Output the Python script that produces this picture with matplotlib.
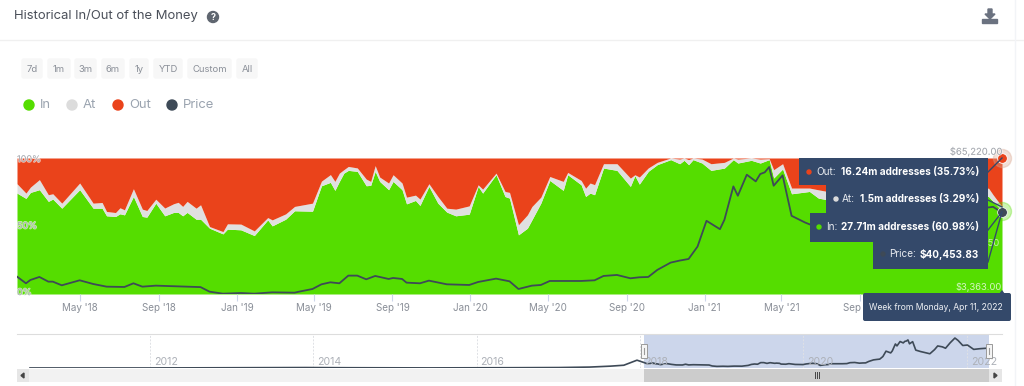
#!/usr/bin/env python3
import matplotlib
matplotlib.use("Agg")
import matplotlib.dates as mdates
import matplotlib.patheffects as pe
import matplotlib.pyplot as plt
import numpy as np
from matplotlib.patches import Circle, FancyBboxPatch, Polygon, Rectangle

plt.rcParams["font.family"] = ["Inter", "DejaVu Sans"]

# weeks counted from Monday, Jan 22 2018
share_weeks = [0, 2, 3, 5, 7, 8, 10, 14, 17, 19, 20, 22, 23, 24, 26, 28, 29, 31, 33, 35, 36, 37, 38, 40, 41, 43, 46, 47,
               50, 53, 56, 57, 60, 62, 66, 68, 70, 71, 72, 73, 74, 76, 78, 79, 80, 81, 83, 84, 86, 87, 89, 90, 92, 94,
               96, 98, 101, 103, 104, 107, 109, 110, 112, 114, 115, 117, 119, 122, 123, 126, 127, 128, 129, 131, 134,
               137, 138, 139, 141, 143, 146, 148, 149, 150, 151, 153, 155, 158, 160, 161, 164, 166, 168, 169, 171, 173,
               177, 179, 181, 185, 190, 195, 200, 205, 210, 217, 218, 220]
in_pct = [74.2, 70.3, 74.7, 76.7, 68.1, 69.8, 63.1, 76.7, 63.1, 63.1, 57.5, 57.0, 59.0, 58.2, 71.7, 57.0, 56.5, 66.8,
          57.5, 60.0, 60.0, 57.5, 60.0, 55.0, 55.0, 48.4, 44.2, 47.7, 47.2, 43.0, 54.5, 50.1, 55.0, 61.2, 60.9, 79.6,
          82.1, 76.2, 82.8, 88.9, 90.9, 90.2, 79.6, 79.9, 90.2, 82.8, 76.7, 82.8, 76.7, 66.3, 68.8, 65.1, 79.1, 66.8,
          60.2, 57.5, 58.7, 79.1, 74.2, 87.7, 71.7, 70.5, 43.5, 48.4, 54.5, 66.8, 83.5, 76.2, 87.7, 80.3, 71.7, 74.2,
          73.0, 92.6, 90.9, 79.1, 87.0, 80.8, 90.2, 95.1, 98.8, 95.8, 98.3, 95.1, 98.8, 96.3, 90.9, 92.6, 98.8, 96.3,
          98.3, 96.3, 98.8, 85.3, 91.9, 73.7, 75.4, 70.5, 69.3, 71.0, 69.0, 76.0, 84.0, 80.0, 72.0, 71.7, 68.1, 60.98]
at_pct = [6.9, 3.9, 3.9, 7.4, 4.9, 3.9, 3.7, 4.9, 3.7, 4.2, 3.2, 2.9, 4.4, 3.7, 5.7, 5.4, 4.9, 2.9, 5.7, 6.4, 7.4, 6.9,
          8.1, 8.1, 10.6, 1.2, 1.7, 3.9, 4.2, 3.4, 1.7, 4.4, 3.9, 3.2, 5.9, 3.4, 5.7, 6.6, 6.1, 2.5, 2.9, 2.5, 4.9, 2.9,
          4.2, 3.2, 4.9, 4.9, 4.9, 4.9, 3.9, 4.7, 2.0, 4.9, 2.9, 4.9, 6.1, 1.2, 2.9, 1.2, 3.7, 4.2, 7.4, 9.8, 9.8, 4.4,
          2.9, 6.6, 1.7, 3.2, 6.1, 7.4, 7.4, 3.2, 4.9, 6.1, 0.7, 5.2, 2.5, 1.7, 1.2, 3.4, 1.7, 3.7, 1.2, 2.9, 4.9, 4.2,
          1.2, 2.9, 1.7, 2.9, 0.7, 6.1, 3.9, 4.2, 2.5, 6.1, 6.1, 5.0, 6.0, 5.0, 4.0, 4.0, 5.0, 6.1, 4.9, 3.29]

price_weeks = [0, 2, 3, 5, 7, 8, 10, 14, 17, 20, 24, 26, 28, 31, 41, 43, 46, 50, 53, 57, 62, 63, 66, 68, 70, 72, 74, 76,
               78, 80, 83, 84, 86, 87, 90, 92, 96, 101, 103, 107, 110, 112, 115, 117, 119, 126, 129, 131, 134, 137, 139,
               141, 143, 146, 148, 150, 152, 154, 157, 158, 160, 161, 163, 165, 166, 167, 168, 169, 171, 173, 176, 182,
               185, 187, 190, 192, 195, 198, 200, 203, 206, 210, 214, 218, 220]
price_usd = [11267, 8227, 9747, 11115, 8987, 8987, 7315, 9595, 7923, 6707, 6555, 8227, 6707, 7163, 6500, 4427, 3515, 3819,
             3515, 4123, 3971, 4427, 5643, 7771, 8683, 8227, 11723, 11723, 10051, 11571, 10203, 10659, 10203, 8531, 8227,
             9443, 7771, 7467, 8835, 10355, 9139, 5643, 7163, 7467, 9291, 9291, 9595, 11571, 12027, 10507, 10963, 11115,
             14307, 17651, 18563, 19300, 24947, 36651, 32851, 37107, 52307, 48051, 57627, 54587, 57931, 58691, 61123,
             52611, 57323, 38931, 35891, 31000, 40000, 48000, 46000, 43000, 55000, 65220, 60000, 49000, 50000, 40500,
             42000, 43000, 40453.83]

month_ticks = ["2018-05-01", "2018-09-01", "2019-01-01", "2019-05-01", "2019-09-01", "2020-01-01",
               "2020-05-01", "2020-09-01", "2021-01-01", "2021-05-01", "2021-09-01"]
month_labels = ["May '18", "Sep '18", "Jan '19", "May '19", "Sep '19", "Jan '20",
                "May '20", "Sep '20", "Jan '21", "May '21", "Sep '21"]

nav_early_dates = ["2010-07-15", "2012-01-01", "2013-11-30", "2014-06-01", "2015-06-01", "2016-06-15", "2017-01-01",
                   "2017-05-20", "2017-08-20", "2017-10-20", "2017-12-18"]
nav_early_price = [100, 100, 1000, 600, 250, 650, 1000, 2000, 4000, 6000, 17000]
nav_years = [2012, 2014, 2016, 2018, 2020, 2022]

range_buttons = ["7d", "1m", "3m", "6m", "1y", "YTD", "Custom", "All"]
legend_names = ["In", "At", "Out", "Price"]

GREEN = "#55dd00"
GREY = "#e0e0e0"
RED = "#ea431b"
DARK = "#3e4a57"
NAVY = "#34496a"
MUTED = "#a4a8af"

W, H = 1024, 386


def px_rect(x0, y0, x1, y1):
    return [x0 / W, 1 - y1 / H, (x1 - x0) / W, (y1 - y0) / H]


fig = plt.figure(figsize=(10.24, 3.86), dpi=100, facecolor="white")

start = np.datetime64("2018-01-22")
end = np.datetime64("2022-04-11")
share_dates = start + np.array(share_weeks) * np.timedelta64(7, "D")
price_dates = start + np.array(price_weeks) * np.timedelta64(7, "D")
in_arr = np.array(in_pct)
top_arr = in_arr + np.array(at_pct)

ax = fig.add_axes(px_rect(17, 158, 1002, 294))
ax.fill_between(share_dates, 0, in_arr, color=GREEN, lw=0)
ax.fill_between(share_dates, in_arr, top_arr, color=GREY, lw=0)
ax.fill_between(share_dates, top_arr, 100, color=RED, lw=0)
ax.set_xlim(start, end)
ax.set_ylim(0, 100)
ax.set_yticks([])
ax.set_xticks(np.array(month_ticks, dtype="datetime64[D]"))
ax.set_xticklabels(month_labels, fontsize=7.1, color="#8a8f98")
ax.tick_params(axis="x", length=5, width=0.8, color="#ccd6eb", pad=1.5)
for side in ax.spines.values():
    side.set_visible(False)

halo = [pe.withStroke(linewidth=1.2, foreground="white", alpha=0.6)]
for val, lab in [(99, "100%"), (50, "50%"), (1, "0%")]:
    ax.text(start, val, lab, fontsize=6.5, color=MUTED, va="center", ha="left", path_effects=halo, zorder=6)

ax2 = ax.twinx()
ax2.plot(price_dates, price_usd, color=DARK, lw=1.3, solid_joinstyle="round", zorder=4)
ax2.set_ylim(3363, 65220)
ax2.set_yticks([])
for side in ax2.spines.values():
    side.set_visible(False)

# end-of-series markers
ax.plot([end], [100], "o", ms=13, color="#d9a58f", alpha=0.35, clip_on=False, zorder=7)
ax.plot([end], [100], "o", ms=7, color=RED, mec="white", mew=0.6, clip_on=False, zorder=8)
ax.plot([end], [in_pct[-1]], "o", ms=13, color=GREEN, alpha=0.3, clip_on=False, zorder=7)
ax2.plot([end], [price_usd[-1]], "o", ms=7, color=DARK, mec="white", mew=0.5, clip_on=False, zorder=8)

# navigator
nav = fig.add_axes(px_rect(17, 334, 1002, 368))
nav_d = np.concatenate([np.array(nav_early_dates, dtype="datetime64[D]"), price_dates])
nav_p = np.concatenate([nav_early_price, price_usd])
to_x = mdates.date2num
n2012 = to_x(np.datetime64("2012-01-01"))
n2022 = to_x(np.datetime64("2022-01-01"))
per_px = (n2022 - n2012) / (967.0 - 149.7)
nav.set_xlim(n2012 - (149.7 - 17) * per_px, n2012 + (1002 - 149.7) * per_px)
nav.set_ylim(0, 74000)
sel0 = n2012 + (644 - 149.7) * per_px
sel1 = n2012 + (989 - 149.7) * per_px
nav.axvspan(sel0, sel1, color="#ccd6eb", lw=0, zorder=1)
for yr in nav_years:
    x = to_x(np.datetime64(f"{yr}-01-01"))
    nav.axvline(x, color="#dfe1e5", lw=0.7, ls=(0, (2, 1.5)), zorder=1.5)
    nav.text(x + 4 * per_px, 13000, str(yr), fontsize=7.6, color="#adb1b8", va="center", zorder=4)
nav.plot(to_x(nav_d), nav_p, color=DARK, lw=1.2, zorder=3)
nav.set_xticks([])
nav.set_yticks([])
for name, side in nav.spines.items():
    side.set_visible(name == "top")
    side.set_color("#dddddd")

# page furniture, in pixels
ui = fig.add_axes([0, 0, 1, 1], zorder=10)
ui.set_xlim(0, W)
ui.set_ylim(H, 0)
ui.axis("off")
ui.patch.set_alpha(0)

ui.text(14, 16, "Historical In/Out of the Money", fontsize=9.4, color="#4a4f59", va="center")
ui.add_patch(Circle((213, 17), 5.5, color="#5f6670"))
ui.text(213, 17, "?", fontsize=6.5, color="white", ha="center", va="center", fontweight="bold")
ui.plot([0, 1024], [40, 40], color="#f0f0f0", lw=1)
ui.plot([1015, 1015], [0, 386], color="#f2f4f7", lw=1)

# download icon
ui.add_patch(Polygon([(988, 9), (992, 9), (992, 14), (995, 14), (990, 19), (985, 14), (988, 14)], color="#6b7280"))
ui.add_patch(Rectangle((982, 19), 15, 4, color="#6b7280"))

button_x = [(21, 43), (47, 71), (74, 97), (101, 125), (129, 149), (153, 183), (187, 232), (236, 258)]
for name, (x0, x1) in zip(range_buttons, button_x):
    ui.add_patch(FancyBboxPatch((x0 + 1, 59), x1 - x0 - 2, 19, boxstyle="round,pad=0,rounding_size=2",
                                fc="#f7f7f7", ec="#f7f7f7", lw=1))
    ui.text((x0 + x1) / 2, 69, name, fontsize=6.8, color="#8a8f98", ha="center", va="center")

legend_colors = [GREEN, "#dcdcdc", RED, DARK]
legend_dot_x = [29, 72, 118, 172]
for name, col, x in zip(legend_names, legend_colors, legend_dot_x):
    ui.add_patch(Circle((x, 105), 5, color=col))
    ui.text(x + 11, 105, name, fontsize=9.4, color="#9aa3af", va="center")

# price axis labels, partly under the tooltips
ui.text(1002, 152, "$65,220.00", fontsize=6.8, color="#a0a4ab", ha="right", va="center", path_effects=halo, zorder=0.5)
ui.text(1000, 243, "$34,291.50", fontsize=6.8, color="#c4ecb0", ha="right", va="center", zorder=0.5)
ui.text(1002, 287, "$3,363.00", fontsize=6.8, color="#d5f5c5", ha="right", va="center", zorder=0.5)

# tooltip connectors
for x0, y0, y1 in [(988, 172, 158), (988, 200, 207), (988, 230, 212), (988, 262, 212)]:
    ui.plot([x0, 1002], [y0, y1], color=NAVY, lw=1)

tooltip_boxes = [(799, 158, 988, 185), (826, 185, 988, 213), (810, 213, 988, 242), (873, 242, 988, 269)]
for x0, y0, x1, y1 in tooltip_boxes:
    ui.add_patch(Rectangle((x0, y0), x1 - x0, y1 - y0, color=NAVY, lw=0))

tip_labels = ["Out:", "At:", "In:", "Price:"]
tip_values = ["16.24m addresses (35.73%)", "1.5m addresses (3.29%)", "27.71m addresses (60.98%)", "$40,453.83"]
tip_dot_x = [809, 836, 819, 883]
tip_label_x = [816, 842, 826, 889]
tip_y = [172, 199, 227, 254]
tip_colors = [RED, "#dcdcdc", GREEN, DARK]
for lab, val, dx, lx, y, col in zip(tip_labels, tip_values, tip_dot_x, tip_label_x, tip_y, tip_colors):
    ui.add_patch(Circle((dx, y), 2, color=col))
    ui.text(lx, y, lab, fontsize=7.2, color="#e8ebf0", va="center")
    ui.text(979, y, val, fontsize=7.2, color="white", va="center", ha="right", fontweight="bold")

ui.add_patch(Polygon([(999, 294), (1002, 290), (1005, 294)], color=NAVY, lw=0))
ui.add_patch(FancyBboxPatch((863, 293), 148, 28, boxstyle="round,pad=0,rounding_size=2", fc=NAVY, ec=NAVY, lw=0))
ui.text(936, 307, "Week from Monday, Apr 11, 2022", fontsize=6.2, color="#eef0f4", ha="center", va="center")

# navigator handles and scrollbar
for x in (644, 989):
    ui.add_patch(Rectangle((x - 3, 344), 6, 14, fc="#f5f5f5", ec="#9a9a9a", lw=0.7))
    ui.plot([x, x], [348, 354], color="#9a9a9a", lw=0.8)
ui.add_patch(Rectangle((17, 369), 985, 13, color="#f2f2f2", lw=0))
ui.add_patch(Rectangle((644, 369), 345, 13, color="#cccccc", lw=0))
ui.add_patch(Rectangle((17, 369), 12, 13, color="#e6e6e6", lw=0))
ui.add_patch(Rectangle((989, 369), 13, 13, color="#e6e6e6", lw=0))
ui.add_patch(Polygon([(24, 373), (24, 378), (21, 375.5)], color="#444444"))
ui.add_patch(Polygon([(994, 373), (994, 378), (997, 375.5)], color="#444444"))
for x in (815, 817, 819):
    ui.plot([x, x], [372, 378], color="#444444", lw=0.7)

fig.savefig("out.png", dpi=100)
